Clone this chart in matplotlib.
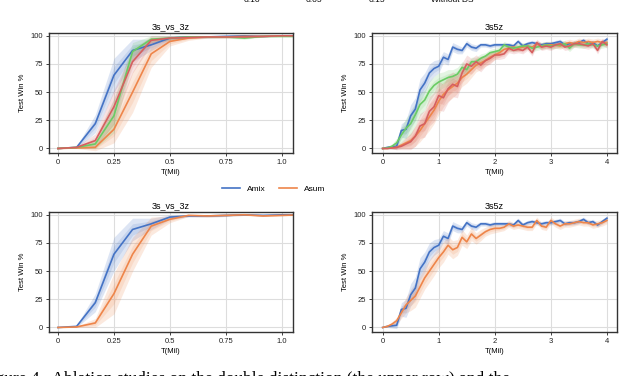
import numpy as np
import matplotlib
matplotlib.use("Agg")
import matplotlib.pyplot as plt

# 3s_vs_3z: evaluation every 1/12 Mil steps
x_3s = np.arange(14) / 12

amix_3s = [0, 1, 22, 65, 87, 92, 98, 99, 99, 99.5, 100, 99.5, 100, 100]
amix_3s_sd = [0, 1, 8, 15, 10, 5, 2, 1, 1, 1, 0.5, 0.5, 0.5, 0.5]
ds05_3s = [0, 0.5, 1, 17, 50, 84, 95, 98, 99, 99, 99.5, 99.5, 100, 100]
ds05_3s_sd = [0, 0.5, 3, 12, 18, 12, 4, 2, 1, 1, 0.5, 0.5, 0.5, 0.5]
ds10_3s = [0, 1, 4, 29, 86, 97, 98, 99, 99, 99, 98, 99.5, 99.5, 99.5]
ds10_3s_sd = [0, 1, 4, 15, 8, 3, 2, 1, 1, 1, 1, 0.5, 0.5, 0.5]
nods_3s = [0, 1, 7, 37, 77, 96, 98, 98.5, 99, 99, 99, 99.5, 100, 100]
nods_3s_sd = [0, 1, 6, 15, 10, 4, 2, 1, 1, 1, 1, 0.5, 0.5, 0.5]
asum_3s = [0, 0.5, 4, 30, 65, 90, 96, 99.5, 99, 99.5, 100, 99, 99.5, 100]
asum_3s_sd = [0, 0.5, 4, 18, 15, 8, 3, 1, 1, 1, 0.5, 0.5, 0.5, 0.5]

# 3s5z: evaluation every 1/12 Mil steps up to 4
x_3s5z = np.arange(49) / 12

amix_5z = [0, 1, 1.5, 2, 16, 17, 29, 35, 52, 58, 67, 71,
           73, 81, 79, 90, 88, 87, 93, 90, 89, 92, 92, 91,
           92, 92, 92, 92, 91, 95, 91, 93, 94, 93, 92, 93,
           93, 94, 95, 92, 93, 93, 94, 96, 93, 94, 91, 94,
           97]
amix_5z_sd = [0, 1, 2, 3, 6, 8, 10, 10, 10, 9, 8, 7,
              6, 5, 5, 4, 4, 3, 3, 3, 3, 2, 2, 2,
              2, 2, 2, 2, 2, 2, 2, 2, 2, 2, 2, 2,
              2, 2, 2, 2, 2, 2, 2, 2, 2, 2, 2, 2,
              2]
ds05_5z = [0, 0, 0.5, 1, 3, 5, 7, 11, 16, 22, 28, 34,
           42, 48, 52, 55, 58, 63, 66, 70, 74, 76, 78, 81,
           83, 85, 88, 89, 90, 89, 90, 91, 90, 93, 91, 92,
           92, 92, 91, 93, 94, 93, 95, 94, 95, 94, 95, 94,
           94]
ds05_5z_sd = [0, 0, 1, 2, 3, 5, 7, 9, 10, 11, 12, 12,
              12, 11, 10, 10, 9, 8, 8, 7, 6, 6, 5, 5,
              4, 4, 4, 3, 3, 3, 3, 3, 3, 3, 3, 3,
              3, 3, 3, 3, 3, 3, 3, 3, 3, 3, 3, 3,
              3]
ds10_5z = [0, 0.5, 2, 5, 12, 18, 22, 30, 39, 43, 51, 56,
           59, 61, 63, 64, 66, 72, 70, 77, 77, 80, 82, 85,
           86, 87, 92, 90, 89, 90, 91, 91, 89, 90, 91, 92,
           91, 92, 92, 93, 89, 93, 92, 92, 93, 92, 91, 92,
           93]
ds10_5z_sd = [0, 1, 2, 4, 7, 9, 10, 10, 10, 9, 9, 8,
              8, 7, 7, 6, 6, 5, 5, 4, 4, 4, 3, 3,
              3, 3, 3, 3, 3, 3, 3, 3, 3, 3, 3, 3,
              3, 3, 3, 3, 3, 3, 3, 3, 3, 3, 3, 3,
              3]
nods_5z = [0, 0, 0.5, 1, 2, 4, 6, 11, 20, 22, 33, 37,
           47, 45, 53, 57, 55, 67, 75, 73, 77, 74, 78, 80,
           83, 83, 84, 89, 87, 88, 87, 90, 85, 94, 90, 91,
           90, 92, 93, 90, 91, 93, 93, 92, 91, 93, 87, 95,
           92]
nods_5z_sd = [0, 0, 1, 2, 3, 5, 7, 9, 11, 12, 13, 13,
              13, 12, 12, 11, 10, 9, 8, 7, 6, 6, 5, 5,
              4, 4, 4, 4, 3, 3, 3, 3, 3, 3, 3, 3,
              3, 3, 3, 3, 3, 3, 3, 3, 3, 3, 3, 3,
              3]
asum_5z = [0, 1, 3, 6, 13, 20, 24, 28, 36, 44, 50, 56,
           62, 67, 73, 69, 71, 80, 76, 83, 79, 82, 85, 87,
           88, 88, 89, 92, 90, 91, 90, 89, 89, 95, 90, 89,
           95, 92, 90, 92, 92, 93, 94, 93, 93, 91, 92, 93,
           95]
asum_5z_sd = [0, 1, 2, 3, 5, 7, 9, 10, 10, 10, 10, 10,
              9, 9, 8, 8, 7, 7, 6, 6, 5, 5, 4, 4,
              4, 3, 3, 3, 3, 3, 3, 3, 3, 3, 3, 3,
              3, 3, 3, 3, 3, 3, 3, 3, 3, 3, 3, 3,
              3]

top_labels = ["0.10", "0.05", "0.15", "Without DS"]
colors = ["#4473c5", "#ee854a", "#6acc64", "#d65f5f"]

plt.rcParams["font.family"] = ["Liberation Sans", "DejaVu Sans"]


def style_axes(ax, xlim, xticks, xticklabels, title):
    ax.set_xlim(*xlim)
    ax.set_ylim(-4, 102.5)
    ax.set_xticks(xticks)
    ax.set_xticklabels(xticklabels)
    ax.set_yticks([0, 25, 50, 75, 100])
    ax.grid(True, color="#dddddd", linewidth=0.8)
    ax.set_axisbelow(True)
    for spine in ax.spines.values():
        spine.set_color("#333333")
        spine.set_linewidth(1.0)
    ax.tick_params(labelsize=5.5, length=2.5, width=0.6, pad=2, colors="#222222")
    ax.set_title(title, fontsize=6.5, pad=2.5)
    ax.set_xlabel("T(Mil)", fontsize=5.5, labelpad=2)
    ax.set_ylabel("Test Win %", fontsize=5.5, labelpad=3)


def draw(ax, x, means, sds):
    handles = []
    for mean, sd, color in zip(means, sds, colors):
        mean = np.array(mean)
        sd = np.array(sd)
        ax.fill_between(x, mean - sd, mean + sd, color=color, alpha=0.18, linewidth=0)
        ax.fill_between(x, mean - sd / 2, mean + sd / 2, color=color, alpha=0.15, linewidth=0)
        (line,) = ax.plot(x, mean, color=color, linewidth=1.2)
        handles.append(line)
    return handles


fig = plt.figure(figsize=(6.4, 3.76), dpi=100)
W, H = 640, 376


def add_ax(left, top, right, bottom):
    return fig.add_axes([left / W, 1 - bottom / H, (right - left) / W, (bottom - top) / H])


ax_tl = add_ax(49, 33, 293, 153)
ax_tr = add_ax(372, 33, 617, 153)
ax_bl = add_ax(49, 212, 293, 332)
ax_br = add_ax(372, 212, 617, 332)

xt_3s = [0, 0.25, 0.5, 0.75, 1.0]
xl_3s = ["0", "0.25", "0.5", "0.75", "1.0"]
xt_5z = [0, 1, 2, 3, 4]
xl_5z = ["0", "1", "2", "3", "4"]

top_handles = draw(ax_tl, x_3s, [amix_3s, ds05_3s, ds10_3s, nods_3s],
                   [amix_3s_sd, ds05_3s_sd, ds10_3s_sd, nods_3s_sd])
draw(ax_tr, x_3s5z, [amix_5z, ds05_5z, ds10_5z, nods_5z],
     [amix_5z_sd, ds05_5z_sd, ds10_5z_sd, nods_5z_sd])
bottom_handles = draw(ax_bl, x_3s, [amix_3s, asum_3s], [amix_3s_sd, asum_3s_sd])
draw(ax_br, x_3s5z, [amix_5z, asum_5z], [amix_5z_sd, asum_5z_sd])

style_axes(ax_tl, (-0.04, 1.05), xt_3s, xl_3s, "3s_vs_3z")
style_axes(ax_tr, (-0.19, 4.18), xt_5z, xl_5z, "3s5z")
style_axes(ax_bl, (-0.04, 1.05), xt_3s, xl_3s, "3s_vs_3z")
style_axes(ax_br, (-0.19, 4.18), xt_5z, xl_5z, "3s5z")

# legend of the upper row, cut off by the page crop
fig.legend(top_handles, top_labels, loc="center", bbox_to_anchor=(0.535, 1.0),
           ncol=4, frameon=False, fontsize=6, handlelength=3, columnspacing=1.7)

fig.legend(bottom_handles, ["Amix", "Asum"], loc="center", bbox_to_anchor=(0.427, 0.497),
           ncol=2, frameon=False, fontsize=6, handlelength=2.2, columnspacing=1.6)

fig.text(-0.03, -0.008, "Figure 4.  Ablation studies on the double distinction (the upper row) and the",
         fontsize=12.5, family="Liberation Serif", va="center", ha="left")

fig.savefig("out.png", dpi=100)
